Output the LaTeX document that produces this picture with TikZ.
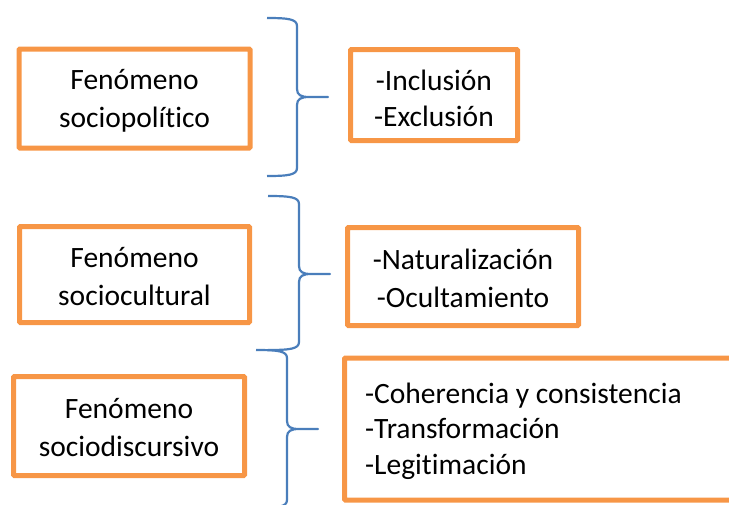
\documentclass[tikz,border=0pt]{standalone}
\usepackage{fontspec}
\setmainfont{Carlito}[Ligatures={NoCommon}]
\definecolor{boxorange}{HTML}{F79646}
\definecolor{braceblue}{HTML}{4A7EBB}
\newcommand\bracepath[6]{% x0, xv, xtip, ytop, ymid, ybot
  \draw[bracestyle] (#1,#4) .. controls ({#1+0.7*(#2-#1)},#4) and (#2,{#4+1}) .. (#2,{#4+8})
    -- (#2,{#5-8}) .. controls (#2,{#5-2}) and ({#2+4},#5) .. ({#2+12},#5) -- (#3,#5)
    -- ({#2+12},#5) .. controls ({#2+4},#5) and (#2,{#5+2}) .. (#2,{#5+8})
    -- (#2,{#6-8}) .. controls (#2,{#6-1}) and ({#1+0.7*(#2-#1)},#6) .. (#1,#6);}
\begin{document}
\begin{tikzpicture}[x=1pt,y=-1pt,
  obox/.style={draw=boxorange, line width=5pt, rounded corners=1pt, inner sep=0pt},
  txt/.style={font=\fontsize{29.5}{38}\selectfont, align=center, inner sep=0pt},
  bracestyle/.style={draw=braceblue, line width=2.2pt, line join=round}]
\useasboundingbox (0,0) rectangle (729,504);
\clip (0,0) rectangle (729,504);
% left boxes
\node[obox, minimum width=231pt, minimum height=99pt] (lb1) at (134.5,98.5) {};
\node[txt] (lt1) at ([yshift=-2pt]lb1.center) {Fenómeno\\sociopolítico};
\node[obox, minimum width=230pt, minimum height=96pt] (lb2) at (134.5,274.5) {};
\node[txt] (lt2) at ([yshift=-2pt]lb2.center) {Fenómeno\\sociocultural};
\node[obox, minimum width=231pt, minimum height=99pt] (lb3) at (129,426) {};
\node[txt] (lt3) at ([yshift=-2pt]lb3.center) {Fenómeno\\sociodiscursivo};
% right boxes
\node[obox, minimum width=167pt, minimum height=91pt] (rb1) at (434,95) {};
\node[txt, font=\fontsize{29.5}{36}\selectfont] (rt1) at ([yshift=-3pt]rb1.center) {-Inclusión\\-Exclusión};
\node[obox, minimum width=231pt, minimum height=98pt] (rb2) at (463,276.5) {};
\node[txt] (rt2) at ([yshift=-2pt]rb2.center) {-Naturalización\\-Ocultamiento};
\node[obox, minimum width=456pt, minimum height=142pt] (rb3) at (572.5,429) {};
\node[txt, align=left, anchor=west, font=\fontsize{29.5}{35.5}\selectfont] (rt3) at (365,431) {-Coherencia y consistencia\\-Transformación\\-Legitimación};
% braces
\bracepath{267}{297}{328}{18}{97}{176}
\bracepath{268}{299}{330}{196}{274}{350}
\bracepath{256}{287}{318}{350}{429}{508}
\end{tikzpicture}
\end{document}
